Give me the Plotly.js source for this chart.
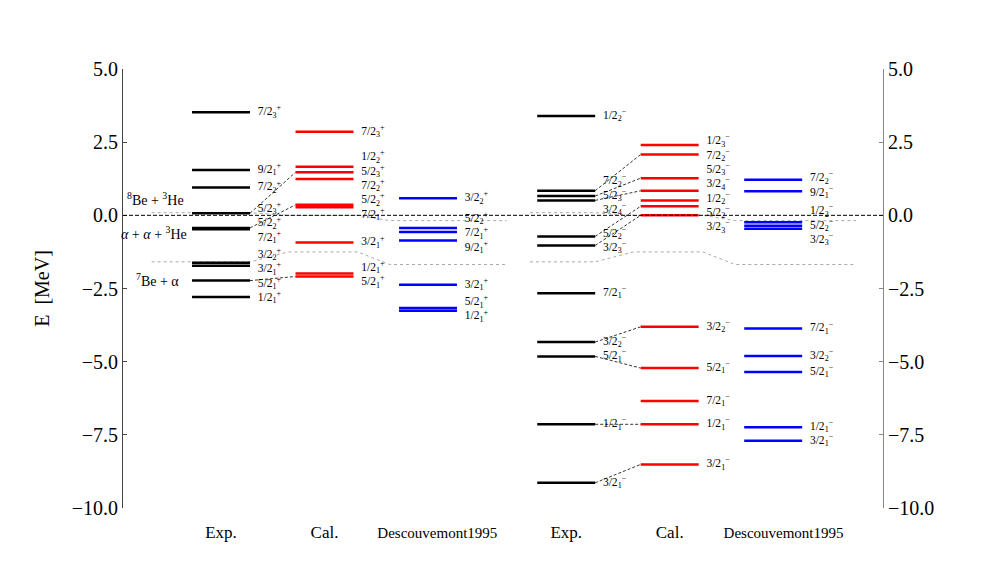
<!DOCTYPE html>
<html><head><meta charset="utf-8">
<script src="https://cdn.plot.ly/plotly-3.0.1.min.js"></script>
<style>html,body{margin:0;padding:0;background:#fff}#chart{width:981px;height:572px}</style>
</head><body><div id="chart"></div>
<script>
// ---------------- data ----------------
const categories = ['Exp.', 'Cal.', 'Descouvemont1995', 'Exp.', 'Cal.', 'Descouvemont1995'];

// positive parity (left group)
const posExpE = [3.52, 1.55, 0.95, 0.07, -0.43, -0.475, -1.62, -1.72, -2.23, -2.79];
const posExpJ = ['7/2_3', '9/2_1', '7/2_2', '5/2_3', '5/2_2', '7/2_1', '3/2_2', '3/2_1', '5/2_1', '1/2_1'];
const posCalE = [2.86, 1.66, 1.47, 1.24, 0.36, 0.28, -0.93, -1.99, -2.09];
const posCalJ = ['7/2_3', '1/2_2', '5/2_3', '7/2_2', '5/2_2', '7/2_1', '3/2_1', '1/2_1', '5/2_1'];
const posDesE = [0.58, -0.43, -0.57, -0.86, -2.37, -3.17, -3.26];
const posDesJ = ['3/2_2', '5/2_2', '7/2_1', '9/2_1', '3/2_1', '5/2_1', '1/2_1'];
const posLinked = ['5/2_3', '5/2_2', '5/2_1'];

// negative parity (right group)
const negExpE = [3.39, 0.84, 0.66, 0.51, -0.72, -1.03, -2.66, -4.33, -4.82, -7.14, -9.14];
const negExpJ = ['1/2_2', '7/2_2', '5/2_3', '3/2_4', '5/2_2', '3/2_3', '7/2_1', '3/2_2', '5/2_1', '1/2_1', '3/2_1'];
const negCalE = [2.40, 2.08, 1.27, 0.84, 0.51, 0.31, 0.0, -3.81, -5.22, -6.34, -7.14, -8.51];
const negCalJ = ['1/2_3', '7/2_2', '5/2_3', '3/2_4', '1/2_2', '5/2_2', '3/2_3', '3/2_2', '5/2_1', '7/2_1', '1/2_1', '3/2_1'];
const negDesE = [1.22, 0.82, -0.24, -0.36, -0.46, -3.87, -4.81, -5.35, -7.24, -7.70];
const negDesJ = ['7/2_2', '9/2_1', '1/2_2', '5/2_2', '3/2_3', '7/2_1', '3/2_2', '5/2_1', '1/2_1', '3/2_1'];
const negLinked = ['7/2_2', '5/2_3', '3/2_4', '5/2_2', '3/2_3', '3/2_2', '5/2_1', '1/2_1', '3/2_1'];

// thresholds: 8Be+3He, a+a+3He, 7Be+a
const thrNames = ['<sup>8</sup>Be + <sup>3</sup>He', '<i>α</i> + <i>α</i> + <sup>3</sup>He', '<sup>7</sup>Be + α'];
const thrExp = [0.09, 0.0, -1.59];
const thrCal = [0.0, 0.0, -1.25];
const thrDes = [-0.18, 0.0, -1.68];

const yTicks = [5, 2.5, 0, -2.5, -5, -7.5, -10];

// ---------------- layout constants ----------------
const cols = [0, 1.0, 2.0, 3.335, 4.335, 5.335];
const hw = 0.28;
const FONT = 'Liberation Serif, Times New Roman, serif';
const LBL_GAP = 0.49;

function spread(E, d) {
  const order = E.map((e, i) => i).sort((a, b) => E[b] - E[a]);
  let cl = order.map(i => ({ idx: [i], sum: E[i] }));
  let merged = true;
  while (merged) {
    merged = false;
    for (let k = 0; k < cl.length - 1; k++) {
      const a = cl[k], b = cl[k + 1];
      const ma = a.sum / a.idx.length, mb = b.sum / b.idx.length;
      const aLow = ma - (a.idx.length - 1) * d / 2;
      const bTop = mb + (b.idx.length - 1) * d / 2;
      if (aLow - bTop < d - 1e-9) {
        cl.splice(k, 2, { idx: a.idx.concat(b.idx), sum: a.sum + b.sum });
        merged = true; break;
      }
    }
  }
  const out = new Array(E.length);
  cl.forEach(c => {
    const n = c.idx.length, m = c.sum / n;
    c.idx.forEach((i, j) => { out[i] = m + (n - 1) * d / 2 - j * d; });
  });
  return out;
}

function fmt(j, parity) {
  const [frac, sub] = j.split('_');
  return frac + '<sub>' + sub + '</sub><sup>' + parity + '</sup>';
}

const traces = [];

// threshold polylines (grey dotted)
function thrTrace(cE, cC, cD, k, extL, extR) {
  return {
    type: 'scatter', mode: 'lines', hoverinfo: 'skip', showlegend: false,
    x: [cE - hw - extL, cE + hw, cC - hw - 0.07, cC + hw + 0.04, cD - hw - 0.09, cD + hw + extR],
    y: [thrExp[k], thrExp[k], thrCal[k], thrCal[k], thrDes[k], thrDes[k]],
    line: { color: '#aaaaaa', width: 1, dash: 'dot' }
  };
}
[0, 2].forEach(k => {
  traces.push(thrTrace(cols[0], cols[1], cols[2], k, 0.39, 0.48));
  traces.push(thrTrace(cols[3], cols[4], cols[5], k, 0.07, 0.52));
});

// connectors
function connTrace(cE, cC, expE, expJ, calE, calJ, linked) {
  const x = [], y = [];
  linked.forEach(j => {
    const a = expJ.indexOf(j), b = calJ.indexOf(j);
    if (a < 0 || b < 0) return;
    x.push(cE + hw, cC - hw, null); y.push(expE[a], calE[b], null);
  });
  return { type: 'scatter', mode: 'lines', x, y, hoverinfo: 'skip', showlegend: false,
    line: { color: '#000', width: 0.8, dash: '3px,2px' } };
}
traces.push(connTrace(cols[0], cols[1], posExpE, posExpJ, posCalE, posCalJ, posLinked));
traces.push(connTrace(cols[3], cols[4], negExpE, negExpJ, negCalE, negCalJ, negLinked));

// levels + labels
function levels(c, E, J, color, parity) {
  const x = [], y = [];
  E.forEach(e => { x.push(c - hw, c + hw, null); y.push(e, e, null); });
  traces.push({ type: 'scatter', mode: 'lines', x, y, hoverinfo: 'skip', showlegend: false,
    line: { color, width: 2.5 } });
  const ly = spread(E, LBL_GAP);
  traces.push({ type: 'scatter', mode: 'text', x: E.map(() => c + hw + 0.075), y: ly,
    text: J.map(j => fmt(j, parity)), textposition: 'middle right', cliponaxis: false,
    textfont: { family: FONT, size: 11.5, color: '#000' }, hoverinfo: 'skip', showlegend: false });
}
levels(cols[0], posExpE, posExpJ, '#000000', '+');
levels(cols[1], posCalE, posCalJ, '#ff0000', '+');
levels(cols[2], posDesE, posDesJ, '#0000ff', '+');
levels(cols[3], negExpE, negExpJ, '#000000', '−');
levels(cols[4], negCalE, negCalJ, '#ff0000', '−');
levels(cols[5], negDesE, negDesJ, '#0000ff', '−');

// dummy trace on right axis so it is drawn
traces.push({ type: 'scatter', mode: 'lines', x: [null], y: [null], yaxis: 'y2', hoverinfo: 'skip', showlegend: false });

const tickShift = [0, 0, 0.09, 0, 0, 0.1];
const layout = {
  width: 981, height: 572,
  margin: { l: 123, r: 98, t: 69, b: 64 },
  paper_bgcolor: '#fff', plot_bgcolor: '#fff',
  showlegend: false,
  font: { family: FONT, color: '#000' },
  xaxis: {
    range: [-0.947, 6.396], showgrid: false, zeroline: false, showline: false, ticks: '',
    tickvals: cols.map((c, i) => c + tickShift[i]),
    ticktext: categories.map(t => t.length > 6 ? '<span style="font-size:15px">' + t + '</span>' : t),
    tickfont: { family: FONT, size: 17, color: '#000' }, ticklabelstandoff: 12, fixedrange: true
  },
  yaxis: {
    range: [-10, 5], tickvals: yTicks, tickformat: '.1f', ticks: 'inside', ticklen: 4,
    tickcolor: '#444', showline: true, linecolor: '#444', linewidth: 1,
    showgrid: false, zeroline: false, tickfont: { family: FONT, size: 20, color: '#000' },
    title: { text: 'E\u00a0\u00a0[MeV]', font: { family: FONT, size: 20, color: '#000' }, standoff: 16 }
  },
  yaxis2: {
    overlaying: 'y', side: 'right', range: [-10, 5], tickvals: yTicks, tickformat: '.1f',
    ticks: 'inside', ticklen: 4, tickcolor: '#888', showline: true, linecolor: '#888', linewidth: 1,
    showgrid: false, zeroline: false, tickfont: { family: FONT, size: 20, color: '#000' }
  },
  shapes: [{
    type: 'line', xref: 'paper', x0: 0, x1: 1, yref: 'y', y0: thrExp[1], y1: thrExp[1],
    line: { color: '#000', width: 1, dash: '4px,2px' }, layer: 'above'
  }],
  annotations: [
    { text: thrNames[0], x: cols[0] - 0.63, y: thrExp[0], yshift: 14 },
    { text: thrNames[1], x: cols[0] - 0.645, y: thrExp[1], yshift: -18 },
    { text: thrNames[2], x: cols[0] - 0.61, y: thrExp[2], yshift: -18 }
  ].map(a => Object.assign({ xref: 'x', yref: 'y', showarrow: false, xanchor: 'center', yanchor: 'middle',
    font: { family: FONT, size: 14, color: '#000' } }, a))
};

Plotly.newPlot('chart', traces, layout, { staticPlot: true });
</script></body></html>
